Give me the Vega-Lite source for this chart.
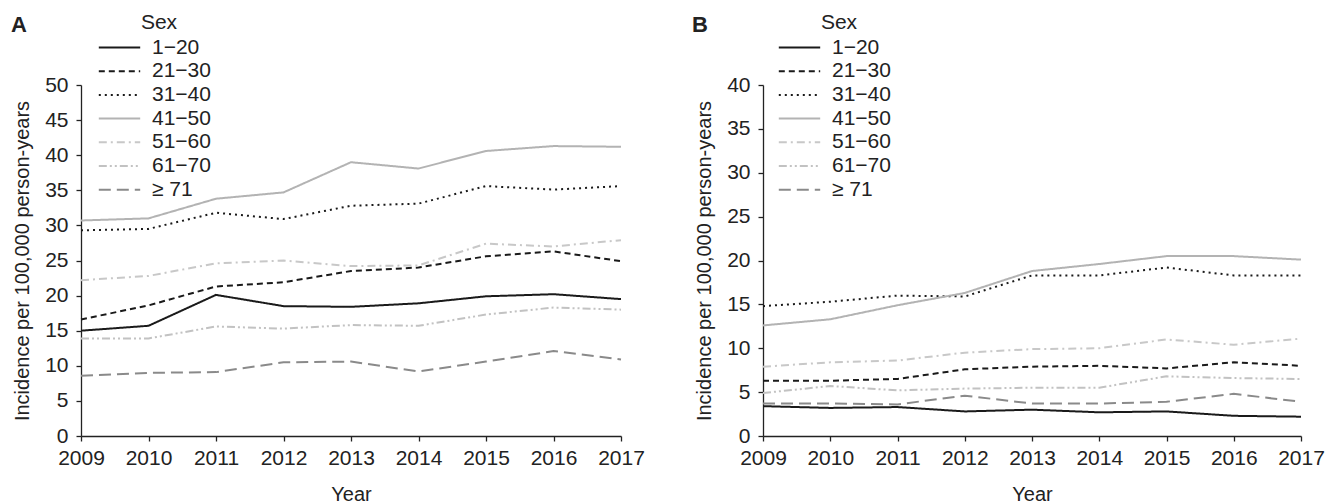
{
  "$schema": "https://vega.github.io/schema/vega-lite/v6.json",
  "padding": {"left": 11, "top": 12, "right": 5, "bottom": 0},
  "background": "white",
  "config": {
    "view": {"stroke": null},
    "font": "Liberation Sans",
    "axis": {"labelFont": "Liberation Sans", "titleFont": "Liberation Sans", "labelFontSize": 21, "titleFontSize": 20, "titleFontWeight": "normal", "labelColor": "#222", "titleColor": "#222", "domainColor": "#222", "tickColor": "#222", "grid": false, "tickSize": 5, "domainWidth": 1.3, "tickWidth": 1.3, "labelOverlap": false, "labelFlush": false},
    "axisY": {"labelPadding": 8, "titlePadding": 12},
    "axisX": {"labelPadding": 6, "titlePadding": 16},
    "legend": {"labelFont": "Liberation Sans", "titleFont": "Liberation Sans", "labelFontSize": 21, "titleFontSize": 21, "titleFontWeight": "normal", "labelColor": "#222", "titleColor": "#222", "symbolType": "M-1.8,0H1.8", "symbolSize": 529, "symbolStrokeWidth": 2, "symbolFillColor": "transparent", "rowPadding": 0.7, "titlePadding": 2, "labelOffset": 20, "titleAnchor": "middle", "padding": 0},
    "title": {"font": "Liberation Sans", "fontSize": 22, "fontWeight": "bold", "color": "#222"}
  },
  "datasets": {
    "A": [
      {"year": 2009, "age": "1−20", "v": 15.0}, {"year": 2010, "age": "1−20", "v": 15.7}, {"year": 2011, "age": "1−20", "v": 20.1}, {"year": 2012, "age": "1−20", "v": 18.5}, {"year": 2013, "age": "1−20", "v": 18.4}, {"year": 2014, "age": "1−20", "v": 18.9}, {"year": 2015, "age": "1−20", "v": 19.9}, {"year": 2016, "age": "1−20", "v": 20.2}, {"year": 2017, "age": "1−20", "v": 19.5},
      {"year": 2009, "age": "21−30", "v": 16.6}, {"year": 2010, "age": "21−30", "v": 18.6}, {"year": 2011, "age": "21−30", "v": 21.3}, {"year": 2012, "age": "21−30", "v": 21.9}, {"year": 2013, "age": "21−30", "v": 23.5}, {"year": 2014, "age": "21−30", "v": 24.0}, {"year": 2015, "age": "21−30", "v": 25.6}, {"year": 2016, "age": "21−30", "v": 26.3}, {"year": 2017, "age": "21−30", "v": 24.9},
      {"year": 2009, "age": "31−40", "v": 29.3}, {"year": 2010, "age": "31−40", "v": 29.5}, {"year": 2011, "age": "31−40", "v": 31.8}, {"year": 2012, "age": "31−40", "v": 30.9}, {"year": 2013, "age": "31−40", "v": 32.8}, {"year": 2014, "age": "31−40", "v": 33.1}, {"year": 2015, "age": "31−40", "v": 35.6}, {"year": 2016, "age": "31−40", "v": 35.1}, {"year": 2017, "age": "31−40", "v": 35.6},
      {"year": 2009, "age": "41−50", "v": 30.7}, {"year": 2010, "age": "41−50", "v": 31.0}, {"year": 2011, "age": "41−50", "v": 33.8}, {"year": 2012, "age": "41−50", "v": 34.7}, {"year": 2013, "age": "41−50", "v": 39.0}, {"year": 2014, "age": "41−50", "v": 38.1}, {"year": 2015, "age": "41−50", "v": 40.6}, {"year": 2016, "age": "41−50", "v": 41.3}, {"year": 2017, "age": "41−50", "v": 41.2},
      {"year": 2009, "age": "51−60", "v": 22.2}, {"year": 2010, "age": "51−60", "v": 22.8}, {"year": 2011, "age": "51−60", "v": 24.6}, {"year": 2012, "age": "51−60", "v": 25.0}, {"year": 2013, "age": "51−60", "v": 24.2}, {"year": 2014, "age": "51−60", "v": 24.3}, {"year": 2015, "age": "51−60", "v": 27.4}, {"year": 2016, "age": "51−60", "v": 27.0}, {"year": 2017, "age": "51−60", "v": 27.9},
      {"year": 2009, "age": "61−70", "v": 13.9}, {"year": 2010, "age": "61−70", "v": 13.9}, {"year": 2011, "age": "61−70", "v": 15.6}, {"year": 2012, "age": "61−70", "v": 15.3}, {"year": 2013, "age": "61−70", "v": 15.8}, {"year": 2014, "age": "61−70", "v": 15.7}, {"year": 2015, "age": "61−70", "v": 17.3}, {"year": 2016, "age": "61−70", "v": 18.3}, {"year": 2017, "age": "61−70", "v": 18.0},
      {"year": 2009, "age": "≥ 71", "v": 8.6}, {"year": 2010, "age": "≥ 71", "v": 9.0}, {"year": 2011, "age": "≥ 71", "v": 9.1}, {"year": 2012, "age": "≥ 71", "v": 10.5}, {"year": 2013, "age": "≥ 71", "v": 10.6}, {"year": 2014, "age": "≥ 71", "v": 9.2}, {"year": 2015, "age": "≥ 71", "v": 10.6}, {"year": 2016, "age": "≥ 71", "v": 12.1}, {"year": 2017, "age": "≥ 71", "v": 10.9}
    ],
    "B": [
      {"year": 2009, "age": "1−20", "v": 3.4}, {"year": 2010, "age": "1−20", "v": 3.2}, {"year": 2011, "age": "1−20", "v": 3.3}, {"year": 2012, "age": "1−20", "v": 2.8}, {"year": 2013, "age": "1−20", "v": 3.0}, {"year": 2014, "age": "1−20", "v": 2.7}, {"year": 2015, "age": "1−20", "v": 2.8}, {"year": 2016, "age": "1−20", "v": 2.3}, {"year": 2017, "age": "1−20", "v": 2.2},
      {"year": 2009, "age": "21−30", "v": 6.3}, {"year": 2010, "age": "21−30", "v": 6.3}, {"year": 2011, "age": "21−30", "v": 6.5}, {"year": 2012, "age": "21−30", "v": 7.6}, {"year": 2013, "age": "21−30", "v": 7.9}, {"year": 2014, "age": "21−30", "v": 8.0}, {"year": 2015, "age": "21−30", "v": 7.7}, {"year": 2016, "age": "21−30", "v": 8.4}, {"year": 2017, "age": "21−30", "v": 8.0},
      {"year": 2009, "age": "31−40", "v": 14.8}, {"year": 2010, "age": "31−40", "v": 15.3}, {"year": 2011, "age": "31−40", "v": 16.0}, {"year": 2012, "age": "31−40", "v": 15.9}, {"year": 2013, "age": "31−40", "v": 18.3}, {"year": 2014, "age": "31−40", "v": 18.3}, {"year": 2015, "age": "31−40", "v": 19.2}, {"year": 2016, "age": "31−40", "v": 18.3}, {"year": 2017, "age": "31−40", "v": 18.3},
      {"year": 2009, "age": "41−50", "v": 12.6}, {"year": 2010, "age": "41−50", "v": 13.3}, {"year": 2011, "age": "41−50", "v": 14.9}, {"year": 2012, "age": "41−50", "v": 16.3}, {"year": 2013, "age": "41−50", "v": 18.8}, {"year": 2014, "age": "41−50", "v": 19.6}, {"year": 2015, "age": "41−50", "v": 20.5}, {"year": 2016, "age": "41−50", "v": 20.5}, {"year": 2017, "age": "41−50", "v": 20.1},
      {"year": 2009, "age": "51−60", "v": 7.9}, {"year": 2010, "age": "51−60", "v": 8.4}, {"year": 2011, "age": "51−60", "v": 8.6}, {"year": 2012, "age": "51−60", "v": 9.5}, {"year": 2013, "age": "51−60", "v": 9.9}, {"year": 2014, "age": "51−60", "v": 10.0}, {"year": 2015, "age": "51−60", "v": 11.0}, {"year": 2016, "age": "51−60", "v": 10.4}, {"year": 2017, "age": "51−60", "v": 11.1},
      {"year": 2009, "age": "61−70", "v": 4.9}, {"year": 2010, "age": "61−70", "v": 5.7}, {"year": 2011, "age": "61−70", "v": 5.2}, {"year": 2012, "age": "61−70", "v": 5.4}, {"year": 2013, "age": "61−70", "v": 5.5}, {"year": 2014, "age": "61−70", "v": 5.5}, {"year": 2015, "age": "61−70", "v": 6.8}, {"year": 2016, "age": "61−70", "v": 6.6}, {"year": 2017, "age": "61−70", "v": 6.5},
      {"year": 2009, "age": "≥ 71", "v": 3.7}, {"year": 2010, "age": "≥ 71", "v": 3.7}, {"year": 2011, "age": "≥ 71", "v": 3.6}, {"year": 2012, "age": "≥ 71", "v": 4.6}, {"year": 2013, "age": "≥ 71", "v": 3.7}, {"year": 2014, "age": "≥ 71", "v": 3.7}, {"year": 2015, "age": "≥ 71", "v": 3.9}, {"year": 2016, "age": "≥ 71", "v": 4.8}, {"year": 2017, "age": "≥ 71", "v": 3.9}
    ]
  },
  "hconcat": [
    {
      "width": 540, "height": 351,
      "title": {"text": "A", "anchor": "start", "frame": "group", "dx": -70, "offset": -25},
      "data": {"name": "A"},
      "mark": {"type": "line", "strokeWidth": 2},
      "encoding": {
        "x": {"field": "year", "type": "quantitative", "scale": {"domain": [2009, 2017], "nice": false, "zero": false}, "axis": {"values": [2009, 2010, 2011, 2012, 2013, 2014, 2015, 2016, 2017], "format": "d", "title": "Year"}},
        "y": {"field": "v", "type": "quantitative", "scale": {"domain": [0, 50], "nice": false}, "axis": {"values": [0, 5, 10, 15, 20, 25, 30, 35, 40, 45, 50], "title": "Incidence per 100,000 person-years"}},
        "color": {"field": "age", "type": "nominal", "title": "Sex", "scale": {"domain": ["1−20", "21−30", "31−40", "41−50", "51−60", "61−70", "≥ 71"], "range": ["#1a1a1a", "#1a1a1a", "#1a1a1a", "#b3b3b3", "#c8c8c8", "#c2c2c2", "#8a8a8a"]}, "legend": {"orient": "none", "legendX": 26, "legendY": -73}},
        "strokeDash": {"field": "age", "type": "nominal", "title": "Sex", "scale": {"domain": ["1−20", "21−30", "31−40", "41−50", "51−60", "61−70", "≥ 71"], "range": [[1, 0], [6, 4], [2, 4], [1, 0], [8, 4, 2, 4], [8, 3, 2, 3, 2, 3], [12, 6]]}, "legend": {"orient": "none", "legendX": 26, "legendY": -73}}
      }
    },
    {
      "width": 538, "height": 351,
      "title": {"text": "B", "anchor": "start", "frame": "group", "dx": -71, "offset": -25},
      "data": {"name": "B"},
      "mark": {"type": "line", "strokeWidth": 2},
      "encoding": {
        "x": {"field": "year", "type": "quantitative", "scale": {"domain": [2009, 2017], "nice": false, "zero": false}, "axis": {"values": [2009, 2010, 2011, 2012, 2013, 2014, 2015, 2016, 2017], "format": "d", "title": "Year"}},
        "y": {"field": "v", "type": "quantitative", "scale": {"domain": [0, 40], "nice": false}, "axis": {"values": [0, 5, 10, 15, 20, 25, 30, 35, 40], "title": "Incidence per 100,000 person-years"}},
        "color": {"field": "age", "type": "nominal", "title": "Sex", "scale": {"domain": ["1−20", "21−30", "31−40", "41−50", "51−60", "61−70", "≥ 71"], "range": ["#1a1a1a", "#1a1a1a", "#1a1a1a", "#b3b3b3", "#c8c8c8", "#c2c2c2", "#8a8a8a"]}, "legend": {"orient": "none", "legendX": 24, "legendY": -73}},
        "strokeDash": {"field": "age", "type": "nominal", "title": "Sex", "scale": {"domain": ["1−20", "21−30", "31−40", "41−50", "51−60", "61−70", "≥ 71"], "range": [[1, 0], [6, 4], [2, 4], [1, 0], [8, 4, 2, 4], [8, 3, 2, 3, 2, 3], [12, 6]]}, "legend": {"orient": "none", "legendX": 24, "legendY": -73}}
      }
    }
  ],
  "resolve": {"scale": {"color": "independent", "strokeDash": "independent", "y": "independent"}, "legend": {"color": "independent", "strokeDash": "independent"}},
  "spacing": 47
}
